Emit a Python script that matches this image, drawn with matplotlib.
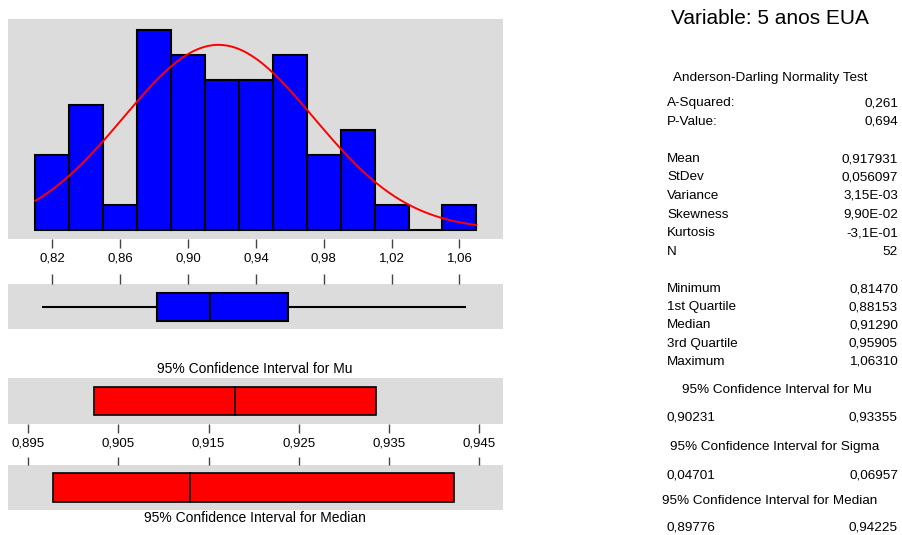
import numpy as np
import matplotlib
matplotlib.use("Agg")
import matplotlib.pyplot as plt

plt.rcParams['font.family'] = ['Liberation Sans', 'DejaVu Sans']

# ---------------- data ----------------
bin_edges = [0.81, 0.83, 0.85, 0.87, 0.89, 0.91, 0.93, 0.95, 0.97, 0.99, 1.01, 1.03, 1.05, 1.07]
counts = [3, 5, 1, 8, 7, 6, 6, 7, 3, 4, 1, 0, 1]
mean = 0.917931
stdev = 0.056097
n = 52
minimum, q1, median, q3, maximum = 0.81470, 0.88153, 0.91290, 0.95905, 1.06310
ci_mu = (0.90231, 0.93355)
ci_sigma = (0.04701, 0.06957)
ci_median = (0.89776, 0.94225)

hist_ticks = [0.82, 0.86, 0.90, 0.94, 0.98, 1.02, 1.06]
hist_ticklabels = ["0,82", "0,86", "0,90", "0,94", "0,98", "1,02", "1,06"]
ci_ticks = [0.895, 0.905, 0.915, 0.925, 0.935, 0.945]
ci_ticklabels = ["0,895", "0,905", "0,915", "0,925", "0,935", "0,945"]

title = "Variable: 5 anos EUA"
stat_rows_1 = [("A-Squared:", "0,261"), ("P-Value:", "0,694")]
stat_rows_2 = [("Mean", "0,917931"), ("StDev", "0,056097"), ("Variance", "3,15E-03"),
               ("Skewness", "9,90E-02"), ("Kurtosis", "-3,1E-01"), ("N", "52")]
stat_rows_3 = [("Minimum", "0,81470"), ("1st Quartile", "0,88153"), ("Median", "0,91290"),
               ("3rd Quartile", "0,95905"), ("Maximum", "1,06310")]

# ---------------- layout helpers ----------------
W, H = 903, 535
fig = plt.figure(figsize=(W / 100, H / 100), dpi=100)
GRAY = '#DCDCDC'


def add_ax(x0, y0, x1, y1):
    return fig.add_axes([x0 / W, (H - y1) / H, (x1 - x0) / W, (y1 - y0) / H])


def clean(ax):
    ax.set_facecolor(GRAY)
    for s in ax.spines.values():
        s.set_visible(False)
    ax.set_yticks([])


# ---------------- histogram ----------------
xlo, xhi = 0.7938, 1.0857
axh = add_ax(8, 19, 503, 239)
clean(axh)
widths = np.diff(bin_edges)
axh.bar(bin_edges[:-1], counts, width=widths, align='edge', color='#0000FF',
        edgecolor='black', linewidth=1.5)
xs = np.linspace(bin_edges[0], bin_edges[-1], 400)
pdf = n * widths[0] * np.exp(-0.5 * ((xs - mean) / stdev) ** 2) / (stdev * np.sqrt(2 * np.pi))
axh.plot(xs, pdf, color='#FF0000', linewidth=1.4)
axh.set_xlim(xlo, xhi)
axh.set_ylim(-0.37, 8.43)
axh.set_xticks(hist_ticks)
axh.set_xticklabels(hist_ticklabels, fontsize=9.5)
axh.tick_params(axis='x', direction='out', length=6.5, width=1, color='#444444', pad=3)

# ---------------- boxplot ----------------
axb = add_ax(8, 284, 503, 329.3)
clean(axb)
stats = [dict(med=median, q1=q1, q3=q3, whislo=minimum, whishi=maximum, fliers=[])]
axb.bxp(stats, positions=[0.49], widths=0.62, vert=False, patch_artist=True,
        showcaps=False,
        boxprops=dict(facecolor='#0000FF', edgecolor='black', linewidth=1.5),
        medianprops=dict(color='black', linewidth=1.5),
        whiskerprops=dict(color='black', linewidth=1.5))
axb.set_xlim(xlo, xhi)
axb.set_ylim(0, 1)
axb.set_yticks([])
axb.xaxis.set_ticks_position('top')
axb.set_xticks(hist_ticks)
axb.set_xticklabels([])
axb.tick_params(axis='x', direction='out', length=7, width=1, color='#444444')

# ---------------- CI for Mu ----------------
clo, chi = 0.89275, 0.94766
fig.text(255 / W, 1 - 369 / H, "95% Confidence Interval for Mu", ha='center', va='center', fontsize=10)
axm = add_ax(8, 378, 503, 424)
clean(axm)
axm.barh([0.5], [ci_mu[1] - ci_mu[0]], left=ci_mu[0], height=0.61, color='#FF0000',
         edgecolor='black', linewidth=1.2)
axm.plot([mean, mean], [0.5 - 0.305, 0.5 + 0.305], color='black', linewidth=1.2)
axm.set_xlim(clo, chi)
axm.set_ylim(0, 1)
axm.set_xticks(ci_ticks)
axm.set_xticklabels(ci_ticklabels, fontsize=9.5)
axm.tick_params(axis='x', direction='out', length=6.5, width=1, color='#444444', pad=3)

# ---------------- CI for Median ----------------
axd = add_ax(8, 465, 503, 510)
clean(axd)
axd.barh([0.5], [ci_median[1] - ci_median[0]], left=ci_median[0], height=0.64, color='#FF0000',
         edgecolor='black', linewidth=1.2)
axd.plot([median, median], [0.5 - 0.32, 0.5 + 0.32], color='black', linewidth=1.2)
axd.set_xlim(clo, chi)
axd.set_ylim(0, 1)
axd.xaxis.set_ticks_position('top')
axd.set_xticks(ci_ticks)
axd.set_xticklabels([])
axd.tick_params(axis='x', direction='out', length=5.5, width=1, color='#444444')
fig.text(255 / W, 1 - 518 / H, "95% Confidence Interval for Median", ha='center', va='center', fontsize=10)

# ---------------- right-hand text ----------------
LX, RX = 667 / W, 898 / W
fs = 9.7


def ty(y):
    return 1 - y / H


fig.text(671 / W, ty(18), title, ha='left', va='center', fontsize=15)
fig.text(673 / W, ty(78), "Anderson-Darling Normality Test", ha='left', va='center', fontsize=fs)
for (lab, val), y in zip(stat_rows_1, [103, 122]):
    fig.text(LX, ty(y), lab, ha='left', va='center', fontsize=fs)
    fig.text(RX, ty(y), val, ha='right', va='center', fontsize=fs)
for (lab, val), y in zip(stat_rows_2, [159, 177, 196, 215, 233, 252]):
    fig.text(LX, ty(y), lab, ha='left', va='center', fontsize=fs)
    fig.text(RX, ty(y), val, ha='right', va='center', fontsize=fs)
for (lab, val), y in zip(stat_rows_3, [289, 307, 325, 344, 362]):
    fig.text(LX, ty(y), lab, ha='left', va='center', fontsize=fs)
    fig.text(RX, ty(y), val, ha='right', va='center', fontsize=fs)


def fmt(v):
    return f"{v:.5f}".replace('.', ',')


ci_blocks = [("95% Confidence Interval for Mu", ci_mu, 682, 390, 418),
             ("95% Confidence Interval for Sigma", ci_sigma, 670, 447, 475),
             ("95% Confidence Interval for Median", ci_median, 662, 501, 528)]
for head, (lo, hi), hx, hy, vy in ci_blocks:
    fig.text(hx / W, ty(hy), head, ha='left', va='center', fontsize=fs)
    fig.text(LX, ty(vy), fmt(lo), ha='left', va='center', fontsize=fs)
    fig.text(RX, ty(vy), fmt(hi), ha='right', va='center', fontsize=fs)

fig.savefig("out.png", dpi=100)
